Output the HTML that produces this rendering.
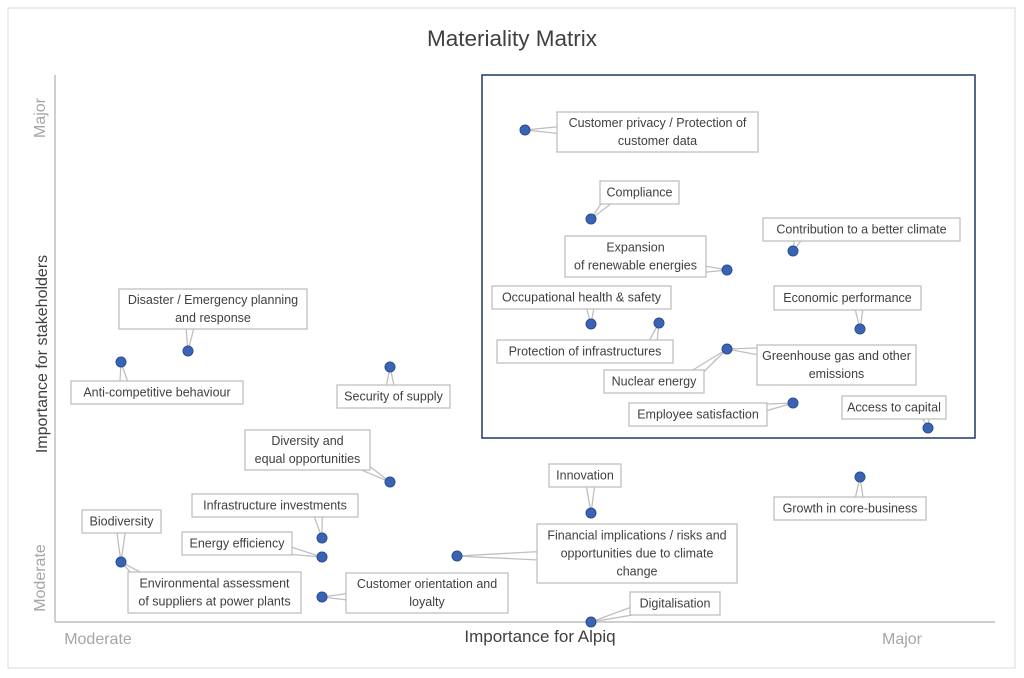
<!DOCTYPE html>
<html><head><meta charset="utf-8"><style>
html,body{margin:0;padding:0;background:#fff;}
svg{display:block;font-family:"Liberation Sans",sans-serif;}
</style></head><body>
<svg id="s" width="1024" height="678" xmlns="http://www.w3.org/2000/svg">
<rect x="8" y="8" width="1007" height="660" fill="#fff" stroke="#d9d9d9"/>
<text x="512" y="46" text-anchor="middle" font-size="22.5" fill="#404040">Materiality Matrix</text>
<line x1="55" y1="75" x2="55" y2="622" stroke="#bfbfbf" stroke-width="1.5"/>
<line x1="55" y1="622" x2="995" y2="622" stroke="#bfbfbf" stroke-width="1.5"/>
<rect x="482" y="75" width="493" height="363" fill="none" stroke="#1f3864" stroke-width="1.5"/>
<text x="540" y="642" text-anchor="middle" font-size="17" fill="#404040">Importance for Alpiq</text>
<text transform="translate(47,354) rotate(-90)" text-anchor="middle" font-size="16" fill="#404040">Importance for stakeholders</text>
<text transform="translate(45,118) rotate(-90)" text-anchor="middle" font-size="16" fill="#a6a6a6">Major</text>
<text transform="translate(45,578) rotate(-90)" text-anchor="middle" font-size="16" fill="#a6a6a6">Moderate</text>
<text x="98" y="644" text-anchor="middle" font-size="16" fill="#a6a6a6">Moderate</text>
<text x="902" y="644" text-anchor="middle" font-size="16" fill="#a6a6a6">Major</text>
<g id="w"></g><g id="b"></g><g id="d"></g>
</svg>
<script>
var items=[
[557,112,758,152,["Customer privacy / Protection of","customer data"],525,130],
[600,181,679,204,["Compliance"],591,219],
[565,236,706,277,["Expansion","of renewable energies"],727,270],
[763,218,960,241,["Contribution to a better climate"],793,251],
[492,286,671,309,["Occupational health & safety"],591,324],
[497,340,673,363,["Protection of infrastructures"],659,323],
[774,286,921,310,["Economic performance"],860,329],
[757,345,916,385,["Greenhouse gas and other","emissions"],727,349],
[604,370,704,393,["Nuclear energy"],727,349],
[629,403,767,426,["Employee satisfaction"],793,403],
[842,396,946,419,["Access to capital"],928,428],
[119,289,307,329,["Disaster / Emergency planning","and response"],188,351],
[71,381,243,404,["Anti-competitive behaviour"],121,362],
[337,385,450,408,["Security of supply"],390,367],
[245,430,370,470,["Diversity and","equal opportunities"],390,482],
[549,464,621,487,["Innovation"],591,513],
[774,497,926,520,["Growth in core-business"],860,477],
[192,494,358,517,["Infrastructure investments"],322,538],
[82,510,161,533,["Biodiversity"],121,562],
[182,532,292,555,["Energy efficiency"],322,557],
[537,524,737,583,["Financial implications / risks and","opportunities due to climate","change"],457,556],
[128,572,301,613,["Environmental assessment","of suppliers at power plants"],121,562],
[346,573,508,613,["Customer orientation and","loyalty"],322,597],
[630,592,720,615,["Digitalisation"],591,622]
];
var NS="http://www.w3.org/2000/svg";
function el(p,t,a,txt){var e=document.createElementNS(NS,t);for(var k in a)e.setAttribute(k,a[k]);if(txt)e.textContent=txt;document.getElementById(p).appendChild(e);return e;}
var dots={};
items.forEach(function(it){
 var x1=it[0],y1=it[1],x2=it[2],y2=it[3],L=it[4],dx=it[5],dy=it[6];
 var ax=Math.min(Math.max(dx,x1+8),x2-8), ay=Math.min(Math.max(dy,y1+6),y2-6);
 var cx=(x1+x2)/2,cy=(y1+y2)/2;
 ax=ax+(cx-ax)*0.1; ay=ay+(cy-ay)*0.1;
 var vx=dx-ax,vy=dy-ay,n=Math.hypot(vx,vy)||1,px=-vy/n*5,py=vx/n*5;
 el("w","polygon",{points:(ax+px)+","+(ay+py)+" "+dx+","+dy+" "+(ax-px)+","+(ay-py),fill:"#fff",stroke:"#bfbfbf","stroke-width":"1.3"});
 el("b","rect",{x:x1,y:y1,width:x2-x1,height:y2-y1,fill:"#fff",stroke:"#bfbfbf","stroke-width":"1.3"});
 var lh=18,h=L.length*lh,sy=(y1+y2)/2-h/2+13;
 L.forEach(function(s,i){el("b","text",{x:(x1+x2)/2,y:sy+i*lh,"text-anchor":"middle","font-size":"12.5",fill:"#404040"},s);});
 var key=dx+","+dy; if(!dots[key]){dots[key]=1;el("d","circle",{cx:dx,cy:dy,r:5,fill:"#3a63b3",stroke:"#2a4d96","stroke-width":"1"});}
});
</script>
</body></html>
